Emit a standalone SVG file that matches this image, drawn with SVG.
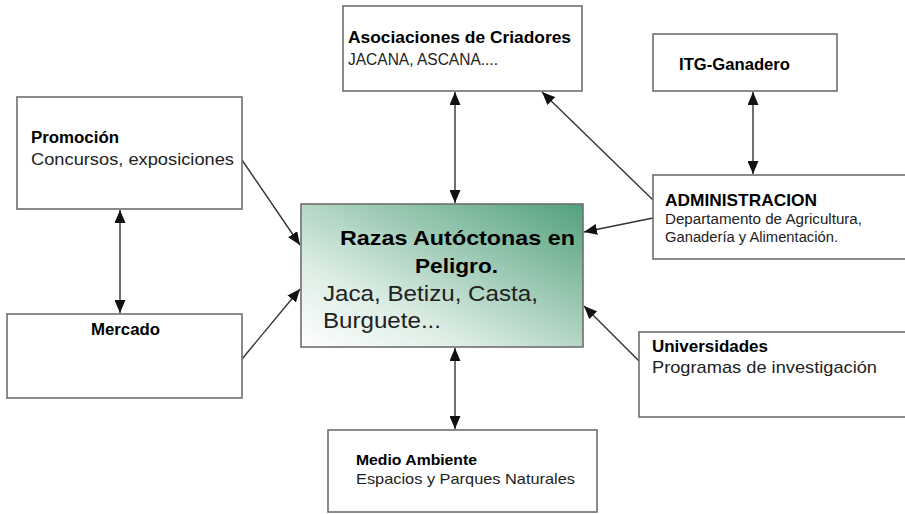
<svg xmlns="http://www.w3.org/2000/svg" width="905" height="514" viewBox="0 0 905 514">
<style>
.box{fill:#fff;stroke:#6e6e6e;stroke-width:1.6}
.t{font-family:"Liberation Sans",Arial,sans-serif;fill:#222}
.b{font-weight:bold;fill:#000}
.con{stroke:#333;stroke-width:1.4;fill:none}
</style>
<defs>
<linearGradient id="g" x1="0" y1="1" x2="1" y2="0">
<stop offset="0" stop-color="#ffffff"/>
<stop offset="0.3" stop-color="#dcede4"/>
<stop offset="1" stop-color="#52a07c"/>
</linearGradient>
<marker id="ah" markerUnits="userSpaceOnUse" markerWidth="13" markerHeight="11" viewBox="0 0 13 11" refX="13" refY="5.5" orient="auto-start-reverse">
<path d="M0,0 L13,5.5 L0,11 Z" fill="#111"/>
</marker>
</defs>

<g id="connectors">
<line class="con" x1="455" y1="92" x2="455" y2="203" marker-start="url(#ah)" marker-end="url(#ah)"/>
<line class="con" x1="653" y1="200" x2="542" y2="92" marker-end="url(#ah)"/>
<line class="con" x1="753" y1="92" x2="753" y2="174" marker-start="url(#ah)" marker-end="url(#ah)"/>
<line class="con" x1="653" y1="218" x2="584" y2="232" marker-end="url(#ah)"/>
<line class="con" x1="639" y1="361" x2="584" y2="306" marker-end="url(#ah)"/>
<line class="con" x1="242" y1="160" x2="300" y2="245" marker-end="url(#ah)"/>
<line class="con" x1="242" y1="359" x2="300" y2="289" marker-end="url(#ah)"/>
<line class="con" x1="120" y1="210" x2="120" y2="313" marker-start="url(#ah)" marker-end="url(#ah)"/>
<line class="con" x1="455" y1="348" x2="455" y2="429" marker-start="url(#ah)" marker-end="url(#ah)"/>
</g>

<g id="center">
<rect x="301" y="204" width="282" height="143" fill="url(#g)" stroke="#6e6e6e" stroke-width="1.6"/>
<text class="t b" x="340" y="245" font-size="21" textLength="235" lengthAdjust="spacingAndGlyphs">Razas Autóctonas en</text>
<text class="t b" x="415" y="273" font-size="21" textLength="83" lengthAdjust="spacingAndGlyphs">Peligro.</text>
<text class="t" x="323" y="301" font-size="22" textLength="215" lengthAdjust="spacingAndGlyphs">Jaca, Betizu, Casta,</text>
<text class="t" x="323" y="328" font-size="22" textLength="118" lengthAdjust="spacingAndGlyphs">Burguete...</text>
</g>

<g id="asociaciones">
<rect class="box" x="343" y="6" width="239" height="85"/>
<text class="t b" x="348" y="43" font-size="16" textLength="223" lengthAdjust="spacingAndGlyphs">Asociaciones de Criadores</text>
<text class="t" x="348" y="65" font-size="16" textLength="150" lengthAdjust="spacingAndGlyphs">JACANA, ASCANA....</text>
</g>

<g id="itg">
<rect class="box" x="653" y="34" width="184" height="57"/>
<text class="t b" x="679" y="70" font-size="16" textLength="111" lengthAdjust="spacingAndGlyphs">ITG-Ganadero</text>
</g>

<g id="administracion">
<rect class="box" x="653" y="175" width="260" height="84"/>
<text class="t b" x="665" y="206" font-size="17" textLength="152" lengthAdjust="spacingAndGlyphs">ADMINISTRACION</text>
<text class="t" x="665" y="224" font-size="14" textLength="197" lengthAdjust="spacingAndGlyphs">Departamento de Agricultura,</text>
<text class="t" x="665" y="242" font-size="14" textLength="173" lengthAdjust="spacingAndGlyphs">Ganadería y Alimentación.</text>
</g>

<g id="promocion">
<rect class="box" x="17" y="97" width="225" height="112"/>
<text class="t b" x="31" y="143" font-size="16" textLength="88" lengthAdjust="spacingAndGlyphs">Promoción</text>
<text class="t" x="31" y="165" font-size="17" textLength="203" lengthAdjust="spacingAndGlyphs">Concursos, exposiciones</text>
</g>

<g id="mercado">
<rect class="box" x="7" y="314" width="235" height="84"/>
<text class="t b" x="91" y="335" font-size="16" textLength="69" lengthAdjust="spacingAndGlyphs">Mercado</text>
</g>

<g id="universidades">
<rect class="box" x="639" y="332" width="275" height="85"/>
<text class="t b" x="652" y="352" font-size="16" textLength="116" lengthAdjust="spacingAndGlyphs">Universidades</text>
<text class="t" x="652" y="373" font-size="17" textLength="225" lengthAdjust="spacingAndGlyphs">Programas de investigación</text>
</g>

<g id="medio">
<rect class="box" x="328" y="430" width="269" height="82"/>
<text class="t b" x="356" y="465" font-size="15" textLength="121" lengthAdjust="spacingAndGlyphs">Medio Ambiente</text>
<text class="t" x="356" y="484" font-size="15" textLength="219" lengthAdjust="spacingAndGlyphs">Espacios y Parques Naturales</text>
</g>
</svg>
